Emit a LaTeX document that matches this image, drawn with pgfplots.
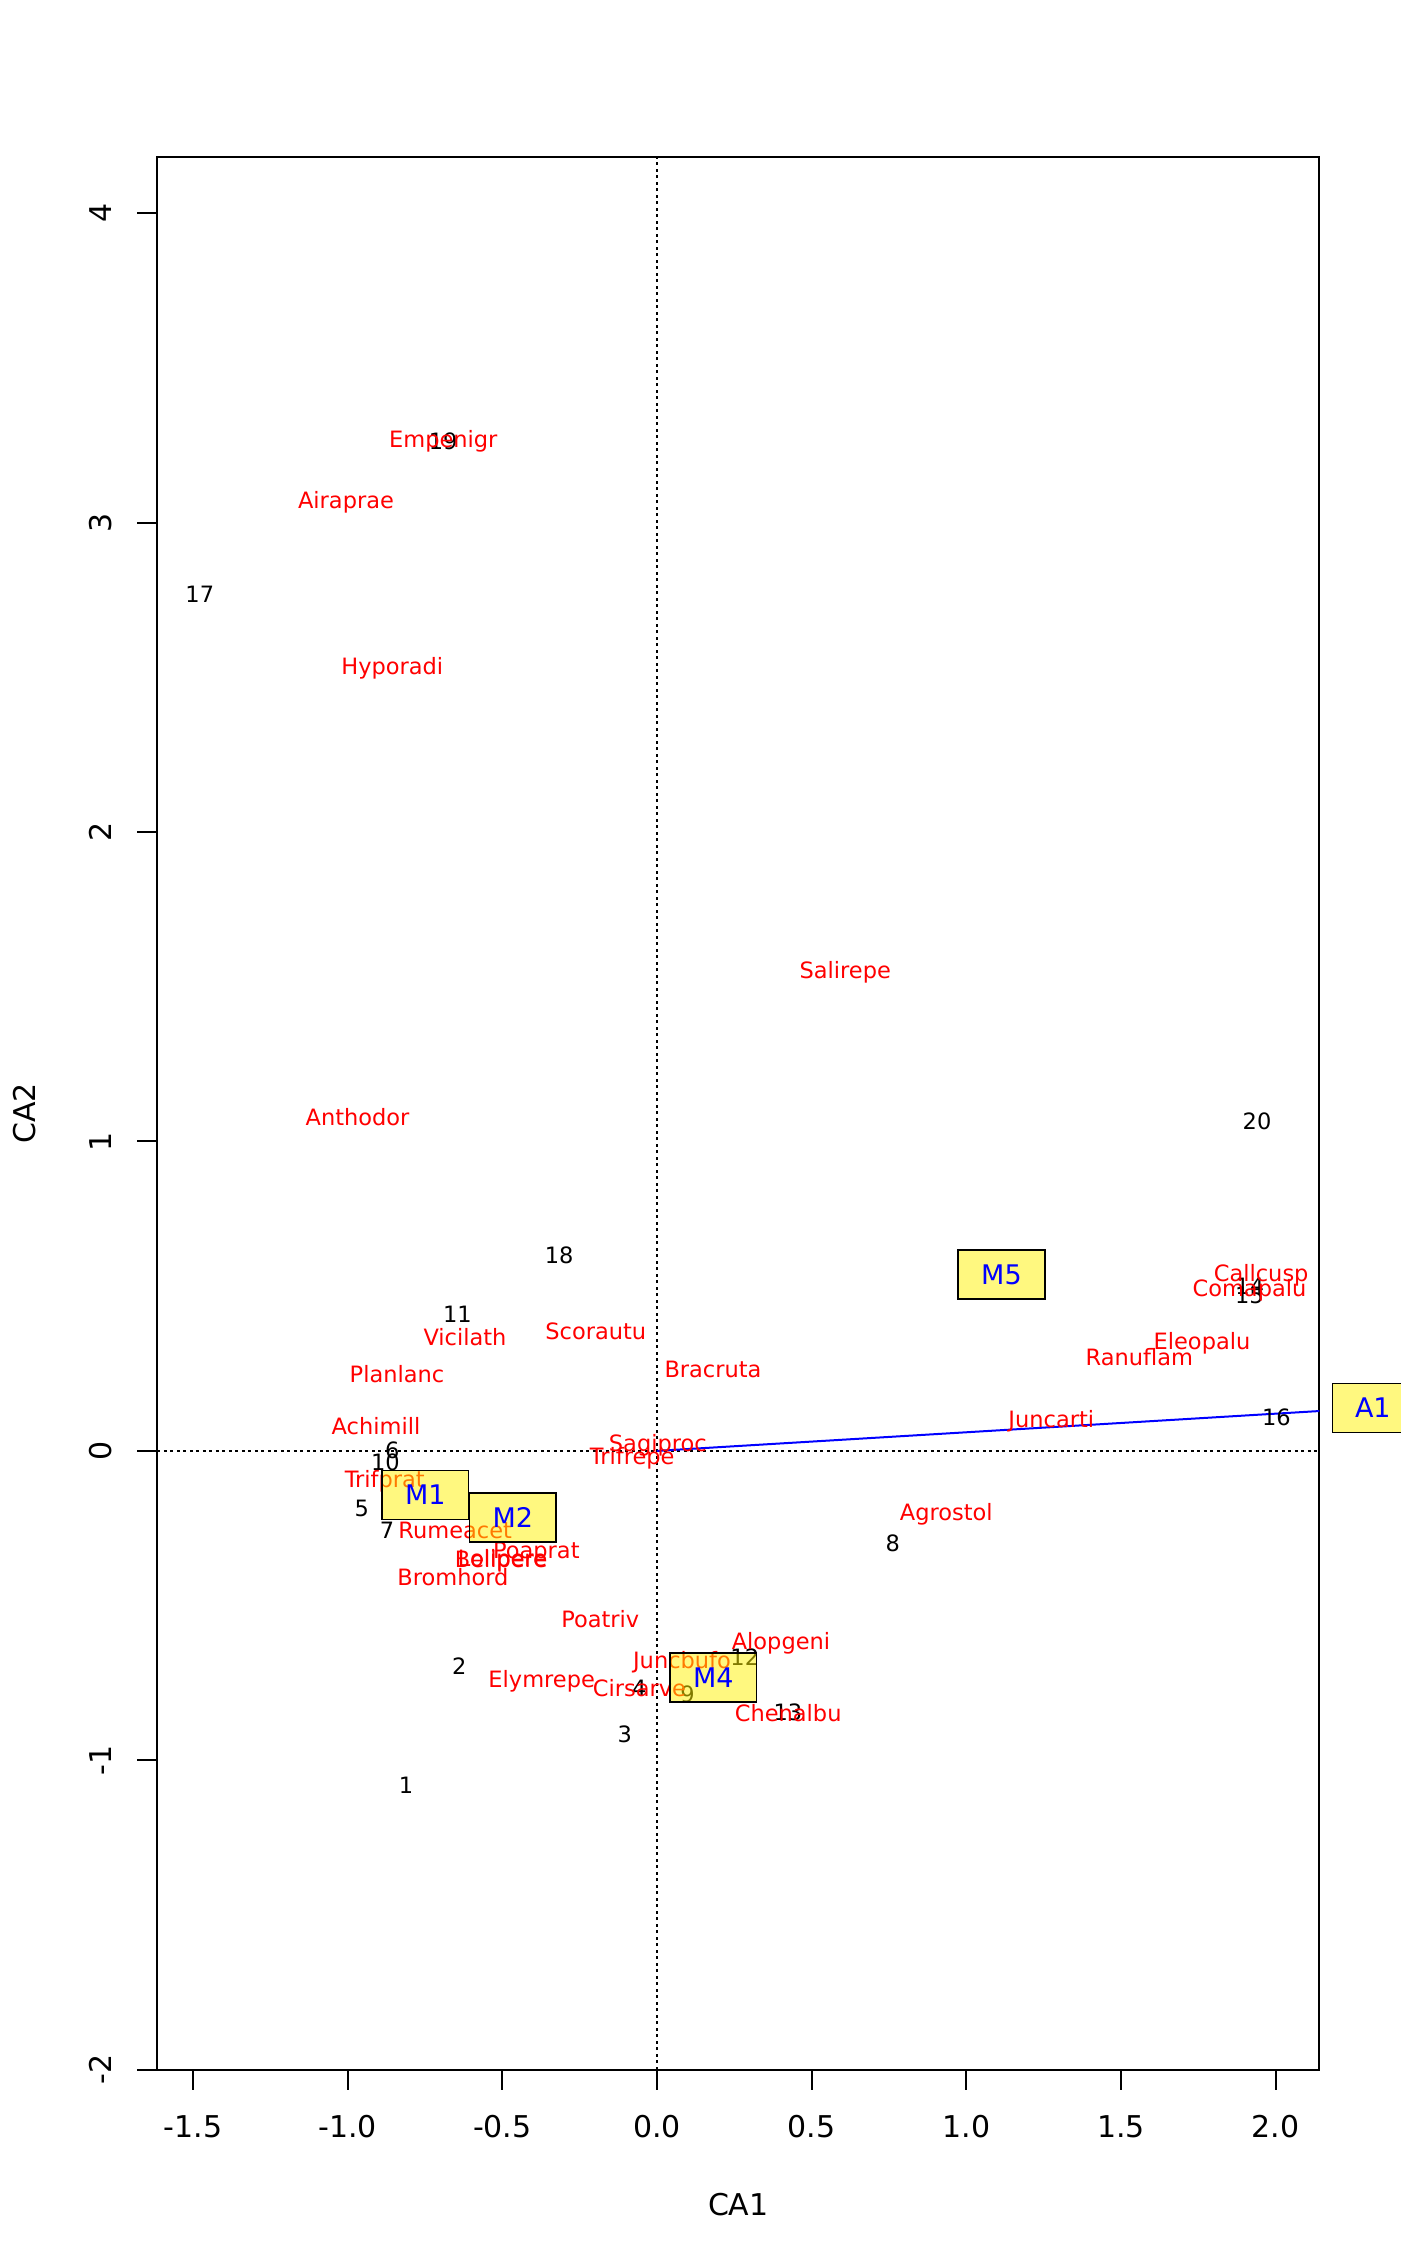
\documentclass[border=0pt]{standalone}
\usepackage{fontspec}
\setmainfont{DejaVu Sans}
\usepackage{pgfplots}
\pgfplotsset{compat=1.18}
\usepackage{pgfplotstable}

\tikzset{boxlabel/.style={anchor=center, inner sep=0pt, text=blue,
    draw=black, line width=0.6pt, fill=yellow, fill opacity=0.5, draw opacity=1, text opacity=1,
    minimum height=19.6pt,
    font=\fontsize{10.8pt}{10.8pt}\selectfont, text height=7.87pt, text depth=0pt}}

\pgfplotstableread{
x y label
-0.8114 -1.0824 1
-0.6388 -0.6946 2
-0.1040 -0.9156 3
-0.0575 -0.7657 4
-0.9540 -0.1850 5
-0.8560 0.0010 6
-0.8728 -0.2557 7
0.7626 -0.2977 8
0.0986 -0.7883 9
-0.8777 -0.0369 10
-0.6449 0.4409 11
0.2838 -0.6687 12
0.4229 -0.8439 13
1.9163 0.5320 14
1.9153 0.5032 15
2.0026 0.1090 16
-1.4780 2.7685 17
-0.3165 0.6315 18
-0.6911 3.2634 19
1.9396 1.0656 20
}\sites

\pgfplotstableread{
x y label
-0.9084 0.0795 Achimill
0.9352 -0.1997 Agrostol
-1.0053 3.0727 Airaprae
0.4008 -0.6150 Alopgeni
-0.9679 1.0798 Anthodor
-0.5040 -0.3505 Bellpere
-0.6595 -0.4080 Bromhord
0.4241 -0.8465 Chenalbu
-0.0566 -0.7680 Cirsarve
1.9153 0.5265 Comapalu
1.7618 0.3530 Eleopalu
-0.3727 -0.7388 Elymrepe
-0.6908 3.2695 Empenigr
-0.8557 2.5343 Hyporadi
1.2746 0.1037 Juncarti
0.0808 -0.6780 Juncbufo
-0.4995 -0.3480 Lolipere
-0.8405 0.2463 Planlanc
-0.3900 -0.3226 Poaprat
-0.1833 -0.5433 Poatriv
1.5591 0.3041 Ranuflam
-0.6524 -0.2573 Rumeacet
0.0027 0.0233 Sagiproc
0.6084 1.5530 Salirepe
-0.1978 0.3853 Scorautu
-0.8800 -0.0934 Trifprat
-0.0800 -0.0171 Trifrepe
-0.6207 0.3680 Vicilath
0.1810 0.2640 Bracruta
1.9531 0.5724 Callcusp
}\species

\pgfplotstableread{
x y label
-0.7490 -0.1425 M1
-0.4660 -0.2160 M2
0.1820 -0.7320 M4
1.1136 0.5700 M5
}\centroids

\pgfplotstableread{
x y label
2.3140 0.1390 A1
}\vectorlabel

\begin{document}
\begin{tikzpicture}
\begin{axis}[
  scale only axis,
  width=464.8pt, height=764.96pt,
  xmin=-1.6153, xmax=2.1410,
  ymin=-2.0, ymax=4.181,
  clip=false,
  axis line style={line width=0.8pt},
  xtick={-1.5,-1,-0.5,0,0.5,1,1.5,2},
  xticklabels={-1.5,-1.0,-0.5,0.0,0.5,1.0,1.5,2.0},
  ytick={-2,-1,0,1,2,3,4},
  yticklabels={-2,-1,0,1,2,3,4},
  xtick pos=left, ytick pos=left,
  tick align=outside,
  major tick length=8pt,
  tick style={line width=0.8pt, black},
  every tick label/.append style={font=\fontsize{12pt}{12pt}\selectfont},
  xticklabel style={anchor=center, text height=8.75pt, text depth=0pt, inner sep=0pt},
  xticklabel shift=14.8pt,
  yticklabel style={rotate=90, anchor=center, text height=8.75pt, text depth=0pt, inner sep=0pt},
  yticklabel shift=14.8pt,
  xlabel={CA1}, ylabel={CA2},
  xlabel style={at={([yshift=-54.1pt]axis description cs:0.5,0)}, anchor=center, font=\fontsize{12pt}{12pt}\selectfont, text height=8.75pt, text depth=0pt, inner sep=0pt},
  ylabel style={at={([xshift=-52.9pt]axis description cs:0,0.5)}, rotate=0, anchor=center, font=\fontsize{12pt}{12pt}\selectfont, text height=8.75pt, text depth=0pt, inner sep=0pt},
]
\coordinate (ll) at (rel axis cs:0,0);
\coordinate (ur) at (rel axis cs:1,1);
\addplot[black, line width=0.6pt, dash pattern=on 1.1pt off 1.5pt] coordinates {(-1.6153,0) (2.1410,0)};
\addplot[black, line width=0.6pt, dash pattern=on 1.1pt off 1.5pt] coordinates {(0,-2.0) (0,4.181)};
\addplot[only marks, mark=none, nodes near coords, point meta=explicit symbolic,
  every node near coord/.append style={anchor=center, inner sep=0pt, text=black,
    font=\fontsize{9pt}{9pt}\selectfont, text height=6.56pt, text depth=0pt}]
  table[x=x, y=y, meta=label] {\sites};
\addplot[only marks, mark=none, nodes near coords, point meta=explicit symbolic,
  every node near coord/.append style={anchor=center, inner sep=0pt, text=red,
    font=\fontsize{9pt}{9pt}\selectfont, text height=6.56pt, text depth=0pt}]
  table[x=x, y=y, meta=label] {\species};
\addplot[blue, line width=0.8pt] coordinates {(0,0) (2.1410,0.1288)};
\addplot[only marks, mark=none, nodes near coords, point meta=explicit symbolic,
  every node near coord/.append style={boxlabel, minimum width=34.7pt}]
  table[x=x, y=y, meta=label] {\centroids};
\addplot[only marks, mark=none, nodes near coords, point meta=explicit symbolic,
  every node near coord/.append style={boxlabel, minimum width=32.4pt}]
  table[x=x, y=y, meta=label] {\vectorlabel};
\end{axis}
\pgfresetboundingbox
\path[use as bounding box] ([shift={(-62.92pt,-78.52pt)}]ll) rectangle ([shift={(32.28pt,62.92pt)}]ur);
\end{tikzpicture}
\end{document}
